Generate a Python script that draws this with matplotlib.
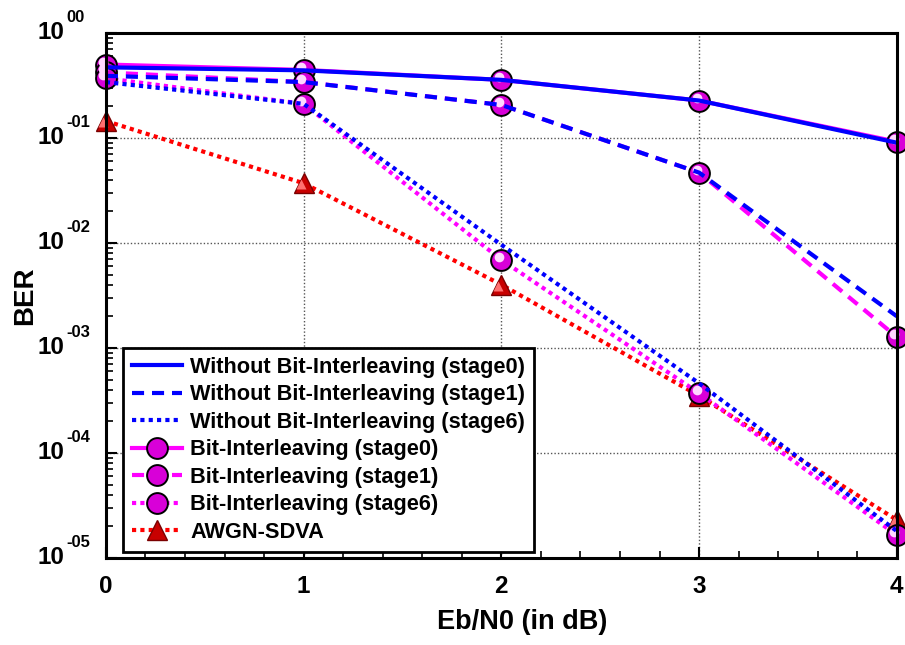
import matplotlib
matplotlib.use("Agg")
import matplotlib.pyplot as plt
import matplotlib.transforms as mtransforms
from matplotlib.ticker import FixedLocator, LogLocator, NullFormatter, MultipleLocator

plt.rcParams['font.family'] = ['Liberation Sans', 'DejaVu Sans']
plt.rcParams['font.weight'] = 'bold'

# Eb/N0 points (dB)
ebn0 = [0, 1, 2, 3, 4]

# BER curves
wo_stage0 = [0.47, 0.44, 0.357, 0.227, 0.090]
wo_stage1 = [0.39, 0.34, 0.206, 0.0467, 0.0020]
wo_stage6 = [0.34, 0.211, 0.0096, 4.6e-4, 1.8e-5]
bi_stage0 = [0.50, 0.444, 0.357, 0.227, 0.092]
bi_stage1 = [0.42, 0.341, 0.206, 0.0467, 1.27e-3]
bi_stage6 = [0.37, 0.211, 0.0069, 3.7e-4, 1.65e-5]
awgn_sdva = [0.145, 0.037, 0.0040, 3.5e-4, 2.3e-5]

labels = ["Without Bit-Interleaving (stage0)",
          "Without Bit-Interleaving (stage1)",
          "Without Bit-Interleaving (stage6)",
          "Bit-Interleaving (stage0)",
          "Bit-Interleaving (stage1)",
          "Bit-Interleaving (stage6)",
          "AWGN-SDVA"]

ytick_vals = [1e-5, 1e-4, 1e-3, 1e-2, 1e-1, 1e0]
ytick_exp = ['-05', '-04', '-03', '-02', '-01', '00']
xtick_vals = [0, 1, 2, 3, 4]

BLUE = '#0000ff'
MAG = '#ff00ff'
RED = '#ff0000'
LW = 3.0
DASH = (0, (2.9, 1.9))
DOT = (0, (1.0, 1.0))

fig = plt.figure(figsize=(9.05, 6.45), dpi=100)
ax = fig.add_axes([0.117, 0.135, 0.874, 0.814])
ax.set_yscale('log')
ax.set_xlim(0, 4)
ax.set_ylim(1e-5, 1)

mk_circle = dict(marker='o', markersize=15, markerfacecolor='#d800d8',
                 markeredgecolor='black', markeredgewidth=1.4)
mk_tri = dict(marker='^', markersize=15, markerfacecolor='#c80000',
              markeredgecolor='#7a0000', markeredgewidth=1.0)

# reference curve (bottom layer)
h_awgn, = ax.plot(ebn0, awgn_sdva, color=RED, lw=LW, linestyle=DOT,
                  dash_capstyle='butt', zorder=3, clip_on=False, **mk_tri)

# bit-interleaved curves with sphere markers
h_bi0, = ax.plot(ebn0, bi_stage0, color=MAG, lw=LW, linestyle='-',
                 zorder=4, clip_on=False, **mk_circle)
h_bi1, = ax.plot(ebn0, bi_stage1, color=MAG, lw=LW, linestyle=DASH,
                 dash_capstyle='butt', zorder=4, clip_on=False, **mk_circle)
h_bi6, = ax.plot(ebn0, bi_stage6, color=MAG, lw=LW, linestyle=DOT,
                 dash_capstyle='butt', zorder=4, clip_on=False, **mk_circle)

# specular highlight on the sphere markers
hl = mtransforms.offset_copy(ax.transData, fig=fig, x=-2.5, y=3, units='dots')
for series in (bi_stage0, bi_stage1, bi_stage6):
    ax.plot(ebn0, series, linestyle='none', marker='o', markersize=7,
            markerfacecolor='#ffd8ff', markeredgecolor='none',
            transform=hl, zorder=4.5, clip_on=False)
hl_t = mtransforms.offset_copy(ax.transData, fig=fig, x=-3, y=-1, units='dots')
ax.plot(ebn0, awgn_sdva, linestyle='none', marker='^', markersize=7,
        markerfacecolor='#ff7070', markeredgecolor='none',
        transform=hl_t, zorder=3.5, clip_on=False)

# non-interleaved curves on top
h_wo0, = ax.plot(ebn0, wo_stage0, color=BLUE, lw=LW, linestyle='-', zorder=5)
h_wo1, = ax.plot(ebn0, wo_stage1, color=BLUE, lw=LW, linestyle=DASH,
                 dash_capstyle='butt', zorder=5)
h_wo6, = ax.plot(ebn0, wo_stage6, color=BLUE, lw=LW, linestyle=DOT,
                 dash_capstyle='butt', zorder=5)

# axes styling
ax.yaxis.set_major_locator(FixedLocator(ytick_vals))
ax.yaxis.set_major_formatter(NullFormatter())
ax.yaxis.set_minor_locator(LogLocator(base=10, subs=range(2, 10), numticks=20))
ax.yaxis.set_minor_formatter(NullFormatter())
ax.xaxis.set_major_locator(FixedLocator(xtick_vals))
ax.set_xticklabels([str(v) for v in xtick_vals])
ax.xaxis.set_minor_locator(MultipleLocator(0.2))

ax.tick_params(axis='both', which='major', direction='in', length=8, width=1.5,
               top=False, right=False)
ax.tick_params(axis='both', which='minor', direction='in', length=5, width=1.2,
               top=False, right=False)
ax.tick_params(axis='x', which='major', pad=12, labelsize=17.5)

# decade labels: "10" with a raised two-digit exponent
ylab_tf = mtransforms.blended_transform_factory(ax.transAxes, ax.transData)
for val, ex in zip(ytick_vals, ytick_exp):
    ax.annotate('10', xy=(0, val), xycoords=ylab_tf, xytext=(-42, -6),
                textcoords='offset pixels', ha='right', va='baseline',
                fontsize=17.5, fontweight='bold', annotation_clip=False)
    ax.annotate(ex, xy=(0, val), xycoords=ylab_tf, xytext=(-40, 11),
                textcoords='offset pixels', ha='left', va='baseline',
                fontsize=12, fontweight='bold', annotation_clip=False)

for sp in ax.spines.values():
    sp.set_linewidth(2.2)
    sp.set_zorder(6)

ax.grid(True, which='major', color='#555555', linestyle=(0, (1, 1.5)), linewidth=1.0)
ax.set_axisbelow(True)

ax.set_xlabel('Eb/N0 (in dB)', fontsize=19.5, fontweight='bold', va='baseline')
ax.xaxis.set_label_coords(0.5266, -0.135)
ax.set_ylabel('BER', fontsize=20, fontweight='bold')
ax.yaxis.set_label_coords(-0.086, 0.5)

leg = ax.legend([h_wo0, h_wo1, h_wo6, h_bi0, h_bi1, h_bi6, h_awgn], labels,
                loc='upper left', bbox_to_anchor=(0.022, 0.40), borderaxespad=0,
                fontsize=15.7, handlelength=2.3, handletextpad=0.37,
                labelspacing=0.3, borderpad=0.4, fancybox=False,
                edgecolor='black', framealpha=1, markerscale=1.0)
leg.get_frame().set_linewidth(2.0)
leg.set_zorder(7)
for t in leg.get_texts():
    t.set_fontweight('bold')

fig.savefig('out.png', dpi=100)
